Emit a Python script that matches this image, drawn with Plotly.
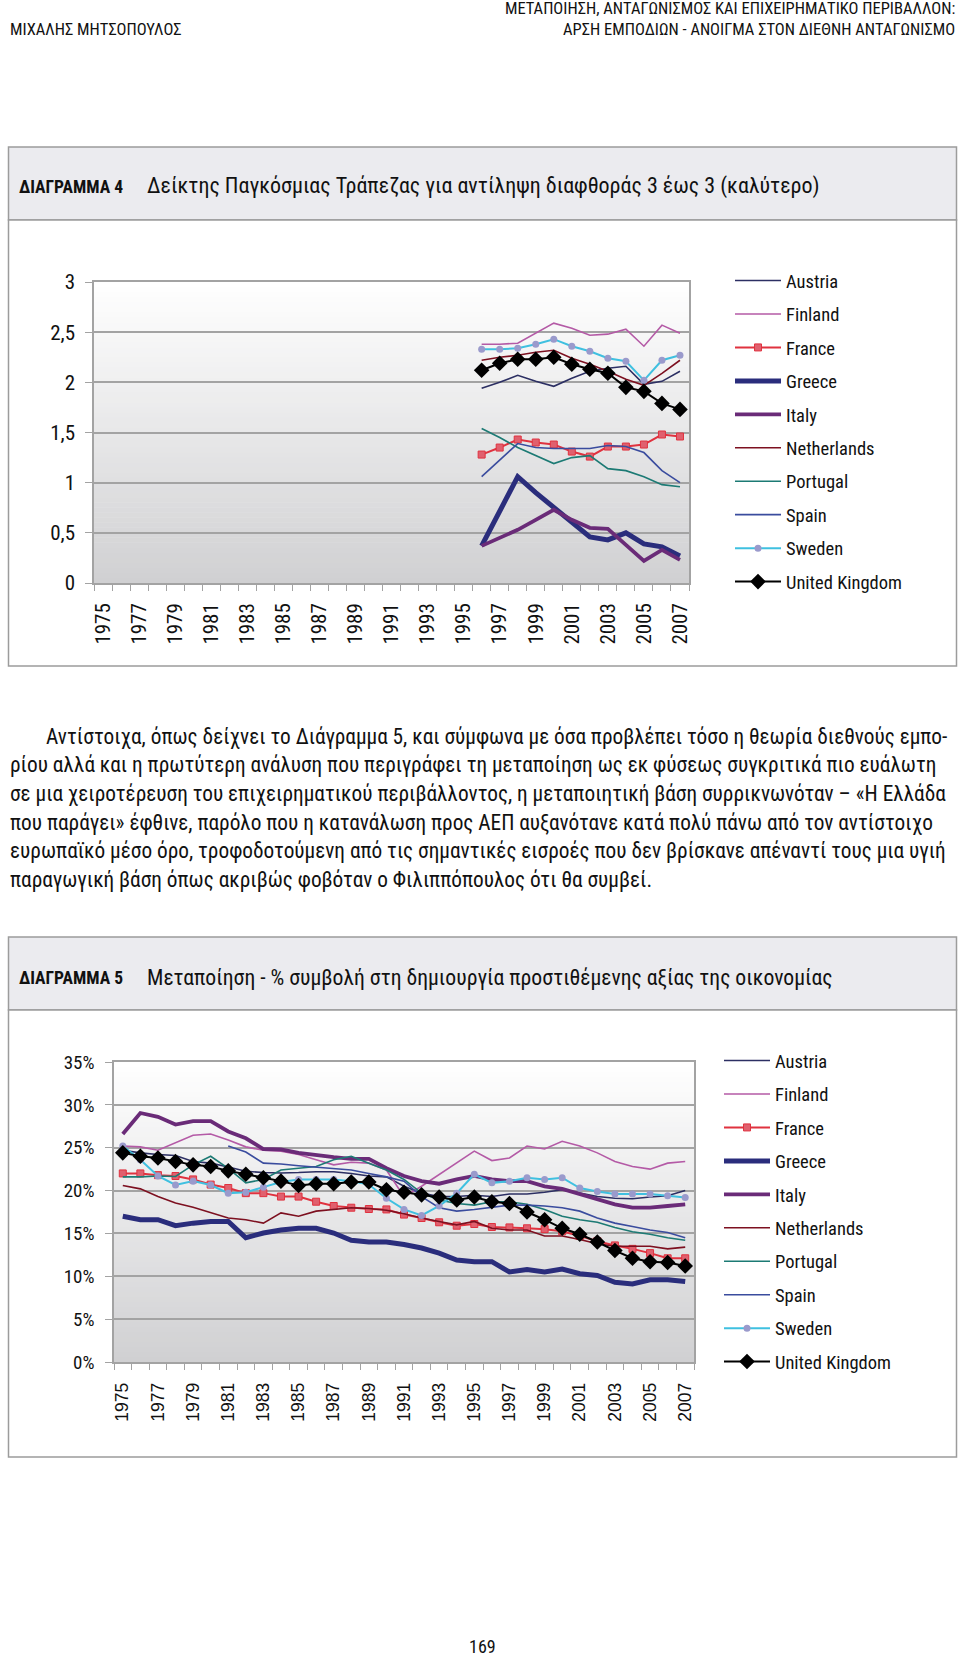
import plotly.graph_objects as go

W, H = 960, 1657
FN = "Liberation Sans Narrow, Roboto Condensed, Arial Narrow, Liberation Sans, sans-serif"
FA = "Liberation Sans, Arial, sans-serif"

countries = ["Austria", "Finland", "France", "Greece", "Italy",
             "Netherlands", "Portugal", "Spain", "Sweden", "United Kingdom"]

# ---------- Chart 4: World Bank corruption perception index ----------
years4 = list(range(1996, 2008))
cpi_austria = [1.94, 2.00, 2.07, 2.01, 1.96, 2.04, 2.11, 2.14, 2.16, 1.98, 2.01, 2.11]
cpi_finland = [2.38, 2.38, 2.39, 2.49, 2.59, 2.54, 2.47, 2.48, 2.53, 2.36, 2.57, 2.49]
cpi_france = [1.28, 1.35, 1.43, 1.40, 1.38, 1.31, 1.26, 1.36, 1.36, 1.38, 1.48, 1.46]
cpi_greece = [0.37, 0.71, 1.06, 0.90, 0.75, 0.60, 0.46, 0.43, 0.50, 0.39, 0.36, 0.27]
cpi_italy = [0.37, 0.45, 0.53, 0.63, 0.73, 0.63, 0.55, 0.54, 0.38, 0.22, 0.33, 0.23]
cpi_netherlands = [2.22, 2.25, 2.27, 2.30, 2.32, 2.24, 2.18, 2.11, 2.03, 1.97, 2.09, 2.22]
cpi_portugal = [1.54, 1.45, 1.35, 1.27, 1.19, 1.25, 1.27, 1.14, 1.12, 1.06, 0.98, 0.96]
cpi_spain = [1.06, 1.22, 1.39, 1.35, 1.34, 1.34, 1.34, 1.37, 1.36, 1.30, 1.12, 1.00]
cpi_sweden = [2.33, 2.33, 2.34, 2.38, 2.43, 2.36, 2.31, 2.24, 2.21, 2.02, 2.22, 2.27]
cpi_uk = [2.12, 2.19, 2.23, 2.23, 2.25, 2.18, 2.13, 2.09, 1.95, 1.91, 1.79, 1.73]

# ---------- Chart 5: Manufacturing % of value added ----------
years5 = list(range(1975, 2008))
years5_spain = list(range(1981, 2008))
mfg_austria = [24.7, 24.4, 24.2, 24.1, 23.4, 23.2, 22.75, 22.25, 22.1, 22.05, 22.1, 22.2, 22.2, 22.0, 21.7, 21.6, 20.5,
               19.7, 19.3, 19.3, 19.45, 19.3, 19.6, 19.6, 19.8, 20.1, 19.7, 19.3, 19.1, 19.05, 19.25, 19.4, 20.0]
mfg_finland = [25.2, 25.1, 24.7, 25.55, 26.45, 26.6, 25.9, 25.1, 24.7, 24.6, 24.2, 23.6, 23.0, 23.3, 23.2, 22.4, 19.3,
               20.5, 21.9, 23.2, 24.6, 23.5, 23.8, 25.2, 24.85, 25.75, 25.2, 24.4, 23.4, 22.8, 22.5, 23.2, 23.4]
mfg_france = [22.0, 22.0, 21.8, 21.7, 21.3, 20.7, 20.3, 19.7, 19.7, 19.3, 19.3, 18.7, 18.2, 18.0, 17.85, 17.8, 17.2,
              16.8, 16.3, 15.9, 16.1, 15.75, 15.7, 15.6, 15.5, 15.25, 14.7, 14.1, 13.6, 13.2, 12.7, 12.1, 12.1]
mfg_greece = [17.0, 16.6, 16.6, 15.9, 16.2, 16.4, 16.4, 14.5, 15.05, 15.4, 15.6, 15.6, 15.05, 14.2, 14.0, 14.0, 13.7,
              13.3, 12.7, 11.9, 11.7, 11.7, 10.5, 10.8, 10.5, 10.85, 10.3, 10.1, 9.3, 9.1, 9.6, 9.6, 9.4]
mfg_italy = [26.6, 29.05, 28.6, 27.7, 28.1, 28.1, 26.9, 26.1, 24.85, 24.8, 24.4, 24.1, 23.9, 23.7, 23.7, 22.6, 21.7,
             21.1, 20.8, 21.3, 21.7, 21.3, 21.1, 21.1, 20.5, 20.2, 19.6, 19.1, 18.4, 18.0, 18.0, 18.2, 18.4]
mfg_netherlands = [20.6, 20.2, 19.3, 18.55, 18.05, 17.4, 16.8, 16.6, 16.2, 17.4, 17.0, 17.6, 17.8, 18.0, 17.9, 17.7, 17.3,
                   16.8, 16.4, 16.0, 16.4, 15.6, 15.4, 15.4, 14.7, 14.7, 14.3, 13.8, 13.5, 13.5, 13.5, 13.2, 13.4]
mfg_portugal = [21.6, 21.6, 21.7, 21.65, 23.0, 24.0, 22.6, 20.9, 21.3, 22.4, 22.6, 22.8, 23.6, 24.0, 23.2, 22.4, 21.3,
                19.7, 18.9, 18.5, 18.3, 18.7, 18.7, 18.4, 17.8, 17.0, 16.6, 16.3, 15.7, 15.2, 14.9, 14.5, 14.2]
mfg_spain = [25.2, 24.5, 23.2, 23.1, 22.9, 22.75, 22.6, 22.4, 22.0, 21.6, 21.1,
             19.3, 18.0, 17.6, 17.8, 18.05, 18.3, 18.3, 18.2, 18.0, 17.6, 16.8, 16.2, 15.8, 15.4, 15.1, 14.5]
mfg_sweden = [25.2, 23.6, 21.7, 20.65, 21.1, 20.65, 19.7, 19.8, 20.4, 21.0, 21.3, 21.3, 21.3, 21.1, 20.7, 19.1, 17.8,
              17.1, 18.2, 19.7, 21.9, 20.9, 21.1, 21.5, 21.3, 21.5, 20.3, 19.9, 19.6, 19.6, 19.6, 19.4, 19.2]
mfg_uk = [24.4, 24.0, 23.8, 23.4, 23.0, 22.8, 22.3, 21.9, 21.5, 21.1, 20.6, 20.8, 20.8, 21.0, 21.0, 20.1, 19.8,
          19.5, 19.25, 18.9, 19.25, 18.7, 18.5, 17.5, 16.6, 15.6, 14.9, 14.0, 13.0, 12.1, 11.7, 11.6, 11.2]

y4_ticks = [0, 0.5, 1, 1.5, 2, 2.5, 3]
y4_labels = ["0", "0,5", "1", "1,5", "2", "2,5", "3"]
y5_ticks = [0, 5, 10, 15, 20, 25, 30, 35]
y5_labels = ["0%", "5%", "10%", "15%", "20%", "25%", "30%", "35%"]
x_labels = [str(y) for y in range(1975, 2008, 2)]

styles = {
    "Austria": dict(color="#2c2f63", width=1.6),
    "Finland": dict(color="#b45aa6", width=1.6),
    "France": dict(color="#e0323f", width=2.0),
    "Greece": dict(color="#2a2d7c", width=5.0),
    "Italy": dict(color="#6a2b78", width=3.8),
    "Netherlands": dict(color="#7d1020", width=1.6),
    "Portugal": dict(color="#1c7a74", width=1.6),
    "Spain": dict(color="#3a4c9e", width=1.6),
    "Sweden": dict(color="#3fc0e0", width=2.0),
    "United Kingdom": dict(color="#000000", width=2.0),
}
markers = {
    "France": dict(symbol="square", size=7, color="#e0606e", line=dict(color="#e0323f", width=1)),
    "Sweden": dict(symbol="circle", size=7, color="#9a9acc", line=dict(width=0)),
    "United Kingdom": dict(symbol="diamond", size=12, color="#000000", line=dict(width=0)),
}

data4 = [cpi_austria, cpi_finland, cpi_france, cpi_greece, cpi_italy,
         cpi_netherlands, cpi_portugal, cpi_spain, cpi_sweden, cpi_uk]
data5 = [mfg_austria, mfg_finland, mfg_france, mfg_greece, mfg_italy,
         mfg_netherlands, mfg_portugal, mfg_spain, mfg_sweden, mfg_uk]

fig = go.Figure()

for name, vals in zip(countries, data4):
    mode = "lines+markers" if name in markers else "lines"
    fig.add_trace(go.Scatter(
        x=years4, y=vals, name=name, mode=mode, line=styles[name],
        marker=markers.get(name), xaxis="x", yaxis="y",
        legend="legend", legendgroup="a_" + name))

for name, vals in zip(countries, data5):
    xs = years5_spain if name == "Spain" else years5
    mode = "lines+markers" if name in markers else "lines"
    fig.add_trace(go.Scatter(
        x=xs, y=vals, name=name, mode=mode, line=styles[name],
        marker=markers.get(name), xaxis="x2", yaxis="y2",
        legend="legend2", legendgroup="b_" + name))


def px(xp):
    return xp / W


def py(yp):
    return 1 - yp / H


GRID = "#a3a3a3"
bound_vals = [y + 0.5 for y in range(1974, 2008)]

common_x = dict(
    range=[1974.5, 2007.5], showgrid=False, zeroline=False, automargin=False,
    showline=True, linecolor=GRID, linewidth=1.5, mirror=True,
    tickvals=list(range(1975, 2008, 2)), ticktext=x_labels, tickangle=-90,
    ticks="", fixedrange=True,
    minor=dict(tickvals=bound_vals, ticks="outside", ticklen=6, tickcolor=GRID, tickwidth=1.2, showgrid=False),
)
common_y = dict(
    showgrid=True, gridcolor=GRID, gridwidth=1.5, automargin=False,
    zeroline=False, showline=True, linecolor=GRID, linewidth=1.5, mirror=True,
    ticks="outside", ticklen=7, tickcolor=GRID, tickwidth=1.2, fixedrange=True,
)

fig.update_layout(
    width=W, height=H, margin=dict(l=0, r=0, t=0, b=0, pad=0, autoexpand=False),
    paper_bgcolor="white", plot_bgcolor="rgba(0,0,0,0)",
    showlegend=True,
    xaxis=dict(domain=[px(94), px(689)], anchor="y", ticklabelstandoff=10,
               tickfont=dict(family=FN, size=21, color="#111"), **common_x),
    yaxis=dict(domain=[py(583), py(282)], anchor="x", range=[0, 3],
               tickvals=y4_ticks, ticktext=y4_labels, ticklabelstandoff=6,
               tickfont=dict(family=FN, size=21, color="#111"), **common_y),
    xaxis2=dict(domain=[px(114), px(694)], anchor="y2", ticklabelstandoff=12,
                tickfont=dict(family=FA, size=17.5, color="#111"), **common_x),
    yaxis2=dict(domain=[py(1362), py(1062)], anchor="x2", range=[0, 35],
                tickvals=y5_ticks, ticktext=y5_labels, ticklabelstandoff=7,
                tickfont=dict(family=FN, size=19, color="#111"), **common_y),
    legend=dict(x=px(730), y=py(262), xanchor="left", yanchor="top", itemwidth=46,
                font=dict(family=FN, size=18.5, color="#111"), bgcolor="rgba(0,0,0,0)",
                traceorder="grouped", tracegroupgap=6.4, itemclick=False, itemdoubleclick=False),
    legend2=dict(x=px(719), y=py(1042), xanchor="left", yanchor="top", itemwidth=46,
                 font=dict(family=FN, size=18.5, color="#111"), bgcolor="rgba(0,0,0,0)",
                 traceorder="grouped", tracegroupgap=6.4, itemclick=False, itemdoubleclick=False),
)

shapes = []
BORDER = "#9c9c9c"
# chart frames
for top, mid, bot in [(147, 220, 666), (937, 1010, 1457)]:
    shapes.append(dict(type="rect", xref="paper", yref="paper", x0=px(8.5), x1=px(956.5),
                       y0=py(mid), y1=py(top), fillcolor="#ebebef", line=dict(color=BORDER, width=1.5), layer="below"))
    shapes.append(dict(type="rect", xref="paper", yref="paper", x0=px(8.5), x1=px(956.5),
                       y0=py(bot), y1=py(mid), fillcolor="white", line=dict(color=BORDER, width=1.5), layer="below"))

# gradient plot backgrounds
N = 60
for xa, ya in [("x", "y"), ("x2", "y2")]:
    for i in range(N):
        t = (i + 0.5) / N
        c = int(round(208 + (255 - 208) * t))
        c2 = int(round(210 + (255 - 210) * t))
        shapes.append(dict(type="rect", xref=xa + " domain", yref=ya + " domain", x0=0, x1=1,
                           y0=i / N, y1=(i + 1) / N + 0.002, fillcolor=f"rgb({c},{c},{c2})",
                           line=dict(width=0), layer="below"))
fig.update_layout(shapes=shapes)

ann = []


def text(x, y, s, size=18, anchor="left", family=FN, color="#111", yanchor="middle"):
    ann.append(dict(x=px(x), y=py(y), xref="paper", yref="paper", text=s, showarrow=False,
                    xanchor=anchor, yanchor=yanchor, font=dict(family=family, size=size, color=color)))


# page header
text(8, 29, "ΜΙΧΑΛΗΣ ΜΗΤΣΟΠΟΥΛΟΣ", 16.5)
text(957, 9, "ΜΕΤΑΠΟΙΗΣΗ, ΑΝΤΑΓΩΝΙΣΜΟΣ ΚΑΙ ΕΠΙΧΕΙΡΗΜΑΤΙΚΟ ΠΕΡΙΒΑΛΛΟΝ:", 16.5, "right")
text(957, 29, "ΑΡΣΗ ΕΜΠΟΔΙΩΝ - ΑΝΟΙΓΜΑ ΣΤΟΝ ΔΙΕΘΝΗ ΑΝΤΑΓΩΝΙΣΜΟ", 16.5, "right")

# chart titles
text(17, 187, "<b>ΔΙΑΓΡΑΜΜΑ 4</b>", 17.5)
text(145, 186, "Δείκτης Παγκόσμιας Τράπεζας για αντίληψη διαφθοράς 3 έως 3 (καλύτερο)", 22)
text(17, 978, "<b>ΔΙΑΓΡΑΜΜΑ 5</b>", 17.5)
text(145, 977, "Μεταποίηση - % συμβολή στη δημιουργία προστιθέμενης αξίας της οικονομίας", 21.7)

# paragraph
para = [
    (44, "Αντίστοιχα, όπως δείχνει το Διάγραμμα 5, και σύμφωνα με όσα προβλέπει τόσο η θεωρία διεθνούς εμπο-"),
    (8, "ρίου αλλά και η πρωτύτερη ανάλυση που περιγράφει τη μεταποίηση ως εκ φύσεως συγκριτικά πιο ευάλωτη"),
    (8, "σε μια χειροτέρευση του επιχειρηματικού περιβάλλοντος, η μεταποιητική βάση συρρικνωνόταν – «Η Ελλάδα"),
    (8, "που παράγει» έφθινε, παρόλο που η κατανάλωση προς ΑΕΠ αυξανότανε κατά πολύ πάνω από τον αντίστοιχο"),
    (8, "ευρωπαϊκό μέσο όρο, τροφοδοτούμενη από τις σημαντικές εισροές που δεν βρίσκανε απέναντί τους μια υγιή"),
    (8, "παραγωγική βάση όπως ακριβώς φοβόταν ο Φιλιππόπουλος ότι θα συμβεί."),
]
for i, (x0, line) in enumerate(para):
    text(x0, 736 + i * 28.7, line, 21.3)

# page number
text(482, 1646, "169", 18, "center")

fig.update_layout(annotations=ann)

fig.write_html("out.html", config={"displayModeBar": False},
               post_script="document.body.style.margin='0';document.body.style.overflow='hidden';")
